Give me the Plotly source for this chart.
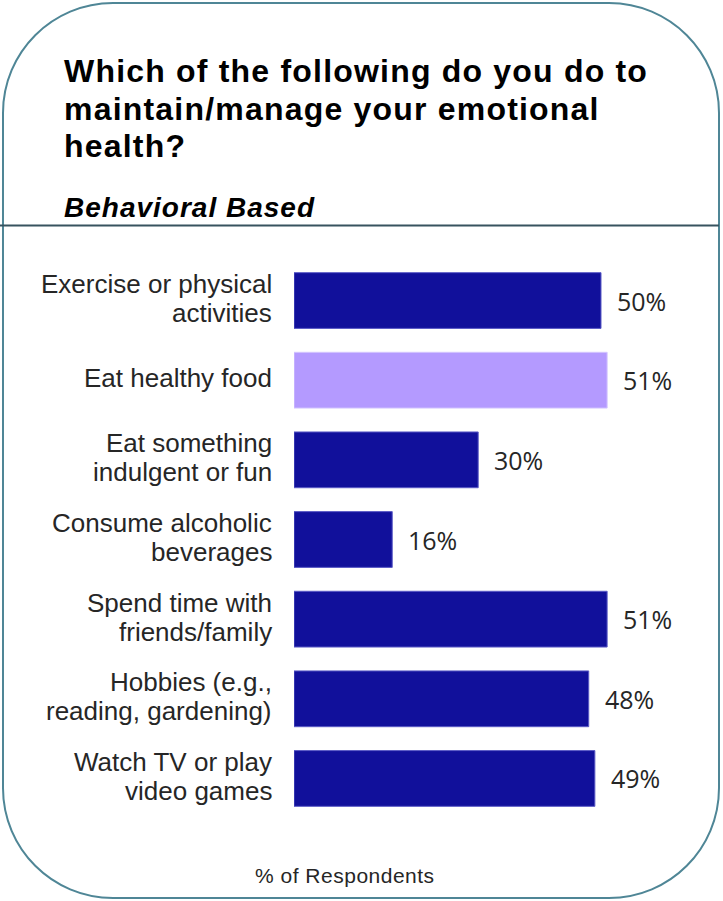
import plotly.graph_objects as go

# ---- data -------------------------------------------------------------
categories = [
    "Exercise or physical<br>activities",
    "Eat healthy food",
    "Eat something<br>indulgent or fun",
    "Consume alcoholic<br>beverages",
    "Spend time with<br>friends/family",
    "Hobbies (e.g.,<br>reading, gardening)",
    "Watch TV or play<br>video games",
]
values = [50, 51, 30, 16, 51, 48, 49]
highlight = "Eat healthy food"

title_lines = [
    "Which of the following do you do to",
    "maintain/manage your emotional",
    "health?",
]
subtitle = "Behavioral Based"
axis_caption = "% of Respondents"

# ---- page geometry (pixels) -------------------------------------------
W, H = 723, 901


def fx(x):
    return x / W


def fy(y):
    return 1 - y / H


DARK = "#11109B"
LIGHT = "#B49AFF"
TEXT = "#262626"
BORDER = "#4F8696"

positions = list(range(len(categories)))
bar_colors = [LIGHT if c == highlight else DARK for c in categories]
edge_colors = ["#D4C6FF" if c == highlight else "#5B5BC6" for c in categories]

fig = go.Figure(
    go.Bar(
        x=values,
        y=positions,
        orientation="h",
        width=0.70,
        marker=dict(color=bar_colors, line=dict(color=edge_colors, width=1)),
        hoverinfo="skip",
    )
)

annotations = []

# category labels, one annotation per line for tight line spacing
for i, cat in enumerate(categories):
    lines = cat.split("<br>")
    n = len(lines)
    for j, line in enumerate(lines):
        offset = -2 + (j - (n - 1) / 2) * 29
        annotations.append(dict(
            x=0, y=i, xref="x", yref="y",
            text=line, showarrow=False,
            xanchor="right", yanchor="middle",
            xshift=-20, yshift=-offset,
            font=dict(family="Liberation Sans, Arial, sans-serif", size=26, color=TEXT),
        ))

# value labels at the end of each bar
for i, v in enumerate(values):
    annotations.append(dict(
        x=v, y=i, xref="x", yref="y",
        text=f"{v}%", showarrow=False,
        xanchor="left", yanchor="middle",
        xshift=14,
        font=dict(family="Open Sans, sans-serif", size=25, color=TEXT),
    ))

# heading
for line, cy in zip(title_lines, [71, 109, 146]):
    annotations.append(dict(
        x=fx(62), y=fy(cy), xref="paper", yref="paper",
        text=f'<span style="letter-spacing:1.2px">{line}</span>',
        showarrow=False, xanchor="left", yanchor="middle",
        font=dict(family="Liberation Sans, Arial, sans-serif", size=32,
                  color="#000000", weight="bold"),
    ))

annotations.append(dict(
    x=fx(62), y=fy(207), xref="paper", yref="paper",
    text=f'<span style="letter-spacing:1px">{subtitle}</span>',
    showarrow=False, xanchor="left", yanchor="middle",
    font=dict(family="Liberation Sans, Arial, sans-serif", size=28,
              color="#000000", weight="bold", style="italic"),
))

annotations.append(dict(
    x=fx(345), y=fy(875), xref="paper", yref="paper",
    text=f'<span style="letter-spacing:0.5px">{axis_caption}</span>',
    showarrow=False, xanchor="center", yanchor="middle",
    font=dict(family="Liberation Sans, Arial, sans-serif", size=21, color=TEXT),
))

# rounded card outline
L, R, T, B, r = 3, 719, 3, 898, 110
k = 0.5523 * r
path = (
    f"M {fx(L + r)},{fy(T)} L {fx(R - r)},{fy(T)} "
    f"C {fx(R - r + k)},{fy(T)} {fx(R)},{fy(T + r - k)} {fx(R)},{fy(T + r)} "
    f"L {fx(R)},{fy(B - r)} "
    f"C {fx(R)},{fy(B - r + k)} {fx(R - r + k)},{fy(B)} {fx(R - r)},{fy(B)} "
    f"L {fx(L + r)},{fy(B)} "
    f"C {fx(L + r - k)},{fy(B)} {fx(L)},{fy(B - r + k)} {fx(L)},{fy(B - r)} "
    f"L {fx(L)},{fy(T + r)} "
    f"C {fx(L)},{fy(T + r - k)} {fx(L + r - k)},{fy(T)} {fx(L + r)},{fy(T)} Z"
)

shapes = [
    dict(type="path", path=path, xref="paper", yref="paper",
         line=dict(color=BORDER, width=2), fillcolor="rgba(0,0,0,0)"),
    dict(type="line", xref="paper", yref="paper",
         x0=fx(0), x1=fx(R), y0=fy(225.5), y1=fy(225.5),
         line=dict(color="#37535F", width=2)),
]

# x scale: bars start at 294 px, about 6.14 px per percentage point
x_max = 66
px_per_unit = 6.14
x0_px = 294
y_top_px, y_bot_px = 300.5 - 39.8, 778.5 + 39.8

fig.update_layout(
    width=W, height=H,
    margin=dict(l=0, r=0, t=0, b=0),
    paper_bgcolor="white", plot_bgcolor="white",
    showlegend=False,
    xaxis=dict(visible=False, range=[0, x_max],
               domain=[fx(x0_px), fx(x0_px + x_max * px_per_unit)],
               fixedrange=True),
    yaxis=dict(visible=False, range=[len(categories) - 0.5, -0.5],
               domain=[fy(y_bot_px), fy(y_top_px)], fixedrange=True),
    annotations=annotations,
    shapes=shapes,
)

fig.write_html("out.html", config={"displayModeBar": False})
